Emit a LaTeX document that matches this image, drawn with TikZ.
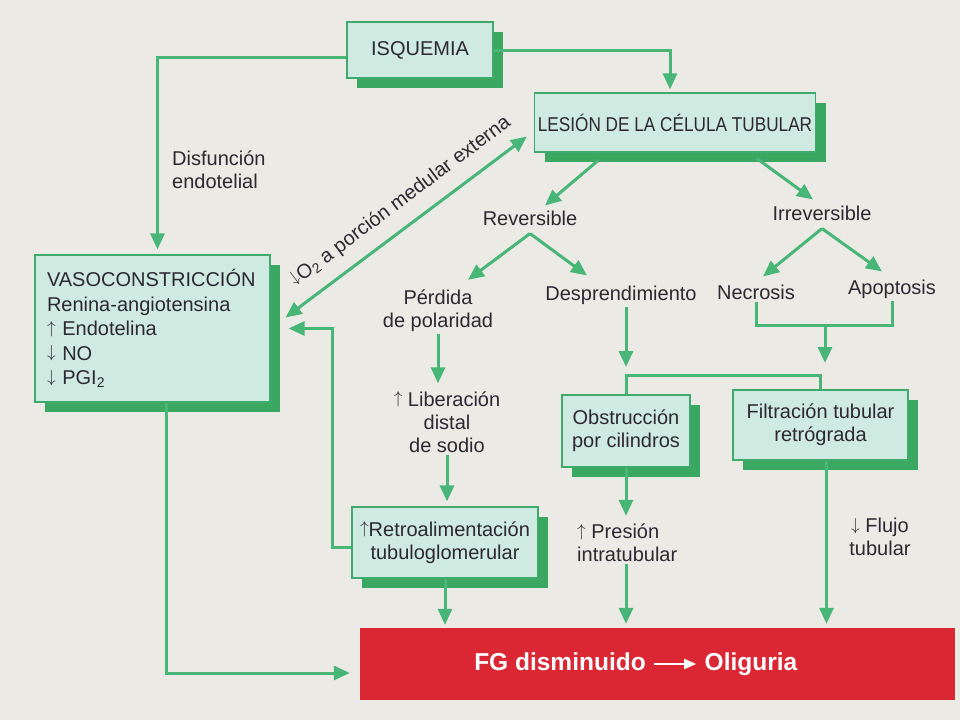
\documentclass[tikz,border=0pt]{standalone}
\usepackage{fontspec}
\setmainfont{Liberation Sans}
\newfontfamily\estrecha[FakeStretch=0.86]{Liberation Sans}
\usetikzlibrary{arrows.meta,shadows}

\definecolor{papel}{RGB}{236,234,228}
\definecolor{cajaverde}{RGB}{206,234,225}
\definecolor{bordeverde}{RGB}{62,170,110}
\definecolor{sombraverde}{RGB}{58,168,96}
\definecolor{flechaverde}{RGB}{72,182,118}
\definecolor{fgrojo}{RGB}{219,38,52}
\definecolor{tinta}{RGB}{45,40,50}

\newcommand{\flechaup}{{\fontsize{16}{16}\selectfont\raisebox{2.5pt}{$\uparrow$}}}
\newcommand{\flechadown}{{\fontsize{16}{16}\selectfont\raisebox{2.5pt}{$\downarrow$}}}

\tikzset{
    caja/.style={draw=bordeverde, line width=1.2pt, fill=cajaverde, text=tinta,
        align=center, drop shadow={shadow xshift=10pt, shadow yshift=-10pt,
        fill=sombraverde, opacity=1}},
    texto/.style={text=tinta, align=center, inner sep=2pt},
    linea/.style={draw=flechaverde, line width=3pt},
    flecha/.style={linea, -{Triangle[length=16pt, width=14pt]}},
    dobleflecha/.style={linea, {Triangle[length=16pt, width=14pt]}-{Triangle[length=16pt, width=14pt]}},
}

\begin{document}
\begin{tikzpicture}[x=1pt, y=-1pt, font=\fontsize{20}{23}\selectfont]
            \fill[papel] (0, 0) rectangle (960, 720);
            \useasboundingbox (0, 0) rectangle (960, 720);

            % cajas
            \node[caja, minimum width=146pt, minimum height=56pt] (isq) at (420, 50) {ISQUEMIA};
            \node[caja, minimum width=260pt, minimum height=59pt] (lesion) at (675, 122.5) {\estrecha LESIÓN DE LA CÉLULA TUBULAR};
            \node[caja, minimum height=147pt, text width=211pt, inner sep=12pt, align=left,
                font=\fontsize{20}{24.5}\selectfont] (vaso) at (152.5, 328.5)
                {VASOCONSTRICCIÓN\\Renina-angiotensina\\\flechaup\ Endotelina\\\flechadown\ NO\\\flechadown\ PGI\textsubscript{2}};
            \node[caja, minimum width=128pt, minimum height=72pt] (obst) at (626, 431) {Obstrucción\\por cilindros};
            \node[caja, minimum width=175pt, minimum height=70pt] (filt) at (820.5, 425) {Filtración tubular\\retrógrada};
            \node[caja, minimum width=186pt, minimum height=71pt] (retro) at (445, 542.5) {\flechaup Retroalimentación\\tubuloglomerular};
            \node[fill=fgrojo, minimum width=595pt, minimum height=72pt] (fg) at (657.5, 664) {};
            \node[text=white, font=\fontsize{24.5}{28}\selectfont\bfseries, text height=18pt, text depth=5pt] (fgtxt) at (560, 664) {FG disminuido};
            \node[text=white, font=\fontsize{24.5}{28}\selectfont\bfseries, text height=18pt, text depth=5pt] (olig) at (751, 664) {Oliguria};
            \draw[white, line width=2pt, -{Triangle[length=12pt, width=10pt]}, shorten <=5pt, shorten >=5pt] (fgtxt) -- (olig);

            % textos
            \node[texto, align=left, anchor=west] (disf) at (170, 170) {Disfunción\\endotelial};
            \node[texto] (rev) at (530, 218) {Reversible};
            \node[texto] (irr) at (822, 213) {Irreversible};
            \node[texto] (perd) at (438, 311) {Pérdida\\de polaridad};
            \node[texto] (desp) at (621, 295) {Desprendimiento};
            \node[texto] (necr) at (756, 292) {Necrosis};
            \node[texto] (apop) at (892, 289) {Apoptosis};
            \node[texto] (lib) at (447, 422) {\flechaup\ Liberación\\distal\\de sodio};
            \node[texto, align=left, anchor=west] (pres) at (575, 543) {\flechaup\ Presión\\intratubular};
            \node[texto] (flujo) at (880, 537) {\flechadown\ Flujo\\tubular};

            % conexiones
            \draw[flecha, shorten >=3pt] (isq.east) -| ([xshift=-5pt]lesion.north);
            \draw[flecha, shorten >=5pt] ([yshift=-7pt]isq.west) -| ([xshift=5pt]vaso.north);
            \draw[dobleflecha] ([xshift=15pt, yshift=11pt]vaso.east)
                -- node[texto, sloped, above=11pt, pos=0.535] {\flechadown O\textsubscript{2} a porción medular externa}
                ([xshift=-7pt, yshift=-14pt]lesion.west);
            \draw[flecha] ([xshift=-77pt, yshift=-8pt]lesion.south) -- ([xshift=15pt, yshift=3pt]rev.north);
            \draw[flecha] ([xshift=82pt, yshift=-6pt]lesion.south) -- ([xshift=-9pt, yshift=4pt]irr.north);
            \foreach \t/\dx in {perd/30, desp/-34} {
                \draw[flecha] ([yshift=-6pt]rev.south) -- ([xshift=\dx pt, yshift=8pt]\t.north);
            }
            \foreach \t/\dx in {necr/7, apop/-10} {
                \draw[flecha] ([yshift=-6pt]irr.south) -- ([xshift=\dx pt, yshift=6pt]\t.north);
            }
            \draw[flecha] (perd.south) -- ([yshift=6pt]perd.south |- lib.north);
            \draw[flecha, shorten >=5pt] (lib.south) -- (lib.south |- retro.north);
            \draw[flecha] ([yshift=-5pt]retro.west) -- ++(-19, 0) |- ([xshift=18pt]vaso.east);
            \draw[flecha, shorten >=3pt] (retro.south) -- (retro.south |- fg.north);
            \draw[flecha, shorten >=10pt] ([xshift=14pt]vaso.south) |- ([yshift=-9pt]fg.west);

            \coordinate (brk) at (725, 375);
            \coordinate (nabr) at (825, 325);
            \draw[linea] (obst.north) |- (brk) -| (filt.north);
            \draw[flecha, shorten >=8pt] (desp.south -| obst.north) -- (brk -| obst.north);
            \draw[linea] (necr.south) |- (nabr) -| (apop.south);
            \draw[flecha, shorten >=12pt] (nabr) -- (brk -| nabr);

            \draw[flecha, shorten >=6pt] (obst.south) -- (obst.south |- pres.north);
            \draw[flecha, shorten >=4pt] (obst.south |- pres.south) -- (obst.south |- fg.north);
            \draw[flecha, shorten >=4pt] ([xshift=6pt]filt.south) -- ([xshift=6pt]filt.south |- fg.north);
        \end{tikzpicture}
\end{document}
